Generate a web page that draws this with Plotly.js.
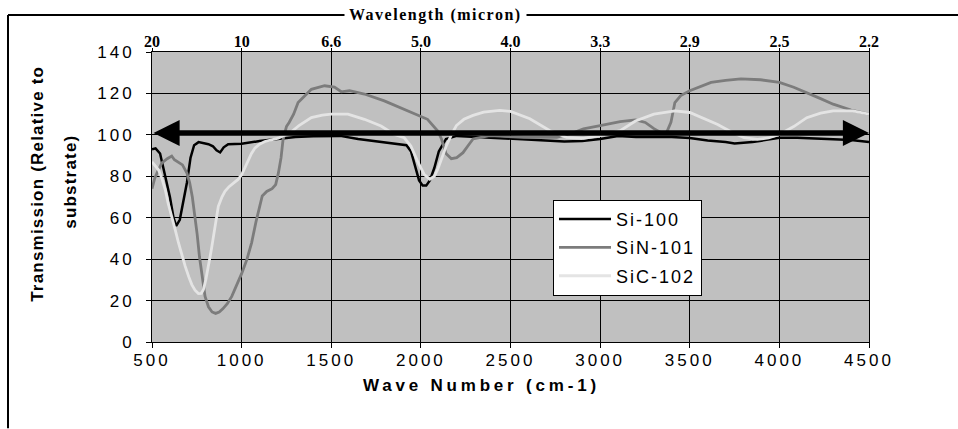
<!DOCTYPE html>
<html>
<head>
<meta charset="utf-8">
<script src="https://cdn.plot.ly/plotly-3.0.1.min.js"></script>
<style>
  html, body { margin: 0; padding: 0; background: #fff; }
  #chart { width: 958px; height: 429px; }
  .xtick text, .ytick text { letter-spacing: 3px; }
  .legendtext { letter-spacing: 2px; }
</style>
</head>
<body>
<div id="chart"></div>
<script>
// ---- data ----
const si100_wn = [500,520,545,570,600,620,635,655,675,695,715,735,760,790,815,840,860,880,900,925,1000,1100,1200,1300,1400,1500,1550,1650,1750,1850,1920,1945,1965,1990,2010,2030,2050,2075,2100,2140,2200,2300,2400,2500,2600,2700,2800,2900,3000,3100,3200,3300,3400,3500,3600,3700,3750,3800,3850,3900,4000,4100,4200,4300,4400,4500];
const si100_t  = [93,93.5,91,82,70,60,56,59,68,77,89,95,96.5,96,95.5,94.5,92.5,91.5,94,95.5,95.7,97,98,99,99.3,99.2,99.5,98,97,96,95,92,86,78,75.5,75.5,78,84,92,98,99.5,99,98.6,98.3,97.5,97,96.8,97,98,99.4,99,99,99,98.5,97.3,96.5,95.8,96.2,96.5,97.2,98.6,98.6,98.3,98.1,97.5,96.5];

const sin101_wn = [500,515,530,555,585,610,625,645,670,695,710,725,740,752,765,780,796,815,835,855,875,895,920,945,970,1000,1030,1056,1080,1100,1115,1140,1170,1190,1205,1220,1231,1250,1265,1290,1315,1389,1463,1518,1556,1602,1685,1796,1926,2037,2093,2115,2140,2170,2200,2235,2265,2291,2384,2500,2571,2700,2758,2850,2907,3000,3112,3197,3252,3300,3340,3370,3395,3417,3450,3500,3560,3619,3700,3785,3895,4000,4080,4153,4230,4300,4400,4500];
const sin101_t  = [74,79,82,86.5,88.5,89.8,88,87,85.5,81.5,77,70,61,52,41,31,22,17,14.5,13.8,14.5,16,18.5,22,27,33,40,48,58,66,70.5,72.7,74,76,81.5,89,97.6,104,106,110,115.6,122,123.7,123,120.8,121.3,119.7,116.4,111.6,107.5,102,98,91,88.5,89,91.4,95,98,99.6,99,98.8,98.8,98.8,101,102.9,104.5,106.4,107.2,106,103,101,101,106,115.6,119,121.3,123.5,125.3,126.3,127,126.6,125.3,123,120.5,117.5,114.8,112,110];

const sic102_wn = [500,520,537,555,574,590,611,630,648,665,685,705,722,740,759,775,787,800,815,830,843,857,870,890,907,930,954,980,1000,1020,1037,1055,1074,1100,1130,1170,1204,1240,1278,1320,1389,1450,1500,1593,1685,1778,1852,1907,1944,1981,2019,2050,2075,2093,2120,2142,2170,2198,2240,2291,2350,2440,2500,2608,2720,2813,2907,3000,3112,3197,3300,3417,3500,3580,3656,3730,3803,3877,3940,4000,4080,4153,4230,4300,4410,4500];
const sic102_t  = [87,84.5,83,79,73.5,67,60.7,54,47.8,42,36.6,31.5,27.7,25,23.4,23.5,25.3,30,36.6,44,51,59,65.5,70,72.7,75,76.7,78.5,80.7,84.5,88,91,93.6,95.5,96.8,97.8,98.4,99.8,101.5,104.5,108.3,109.5,110,110,107.5,104.3,100.2,98.6,94.6,87.3,80.8,78.6,80,83.2,90,94.7,100,104.5,107.5,109.4,111,111.8,111.3,107.8,102,98.8,98.3,99.6,102,106.7,110,111.6,110.8,108,105,101.5,98.6,97.8,98.5,100.2,104,108.3,110.5,111.6,111.6,110];

const seriesNames = ['Si-100', 'SiN-101', 'SiC-102'];
const xTickVals = [500,1000,1500,2000,2500,3000,3500,4000,4500];
const wavelengthLabels = ['20','10','6.6','5.0','4.0','3.3','2.9','2.5','2.2'];
const yTickVals = [0,20,40,60,80,100,120,140];
const xTitle = 'Wave Number (cm-1)';
const topTitle = 'Wavelength (micron)';
const yTitleLines = ['Transmission (Relative to', 'substrate)'];
const referenceLevel = 100.9;   // the double-headed arrow
const xRange = [500, 4500];
const yRange = [0, 140];

// ---- chart ----
const SANS = 'Liberation Sans, Arial, sans-serif';
const SERIF = 'Liberation Serif, Times New Roman, serif';

const traces = [
  {x: si100_wn, y: si100_t, name: seriesNames[0], mode: 'lines', legendgroup: 'a',
   line: {color: '#000000', width: 2.5}},
  {x: sin101_wn, y: sin101_t, name: seriesNames[1], mode: 'lines', legendgroup: 'b',
   line: {color: '#7c7c7c', width: 2.8}},
  {x: sic102_wn, y: sic102_t, name: seriesNames[2], mode: 'lines', legendgroup: 'c',
   line: {color: '#e4e4e4', width: 2.8}},
  // carrier for the top (wavelength) axis
  {x: xRange, y: [null, null], xaxis: 'x2', mode: 'lines', showlegend: false, hoverinfo: 'skip'}
];

const plotL = 152, plotR = 869, plotT = 52, plotB = 342.5;
const W = 958, H = 429;
const px = v => (v - plotL) / (plotR - plotL);
const py = v => (plotB - v) / (plotB - plotT);

const layout = {
  width: W, height: H,
  margin: {l: plotL, r: W - plotR, t: plotT, b: H - plotB, pad: 0},
  paper_bgcolor: '#ffffff',
  plot_bgcolor: '#c0c0c0',
  showlegend: true,
  xaxis: {
    range: xRange, tickvals: xTickVals,
    showgrid: true, gridcolor: '#000000', gridwidth: 1,
    zeroline: false, showline: true, linecolor: '#000000', linewidth: 1, mirror: true,
    ticks: 'outside', ticklen: 5, tickcolor: '#000000',
    ticklabelstandoff: -2,
    tickfont: {family: SANS, size: 17, color: '#000000'}
  },
  xaxis2: {
    overlaying: 'x', side: 'top', range: xRange,
    tickvals: xTickVals, ticktext: wavelengthLabels,
    showgrid: false, zeroline: false, showline: false,
    ticks: 'outside', ticklen: 3, tickcolor: '#000000',
    ticklabelstandoff: -5,
    tickfont: {family: SERIF, size: 16, color: '#000000', weight: 'bold'}
  },
  yaxis: {
    range: yRange, tickvals: yTickVals,
    showgrid: true, gridcolor: '#000000', gridwidth: 1,
    zeroline: false, showline: true, linecolor: '#000000', linewidth: 1, mirror: true,
    ticks: 'outside', ticklen: 5, tickcolor: '#000000',
    ticklabelstandoff: 8,
    tickfont: {family: SANS, size: 17, color: '#000000'}
  },
  legend: {
    x: px(553), y: py(200), xanchor: 'left', yanchor: 'top',
    bgcolor: '#ffffff', bordercolor: '#000000', borderwidth: 1,
    font: {family: SANS, size: 18, color: '#000000'},
    tracegroupgap: 2, itemwidth: 52
  },
  annotations: [
    {x: xRange[1], y: referenceLevel, ax: xRange[0], ay: referenceLevel,
     xref: 'x', yref: 'y', axref: 'x', ayref: 'y',
     text: '', showarrow: true, arrowside: 'end+start',
     arrowhead: 2, arrowsize: 0.95, arrowwidth: 5.5, arrowcolor: '#000000',
     standoff: 0, startstandoff: 0},
    {text: '<span style="letter-spacing:3.8px">' + xTitle + '</span>', xref: 'paper', yref: 'paper',
     x: px(481), y: py(386), xanchor: 'center', yanchor: 'middle', showarrow: false,
     font: {family: SANS, size: 17, color: '#000000', weight: 'bold'}},
    {text: '<span style="letter-spacing:1.5px">' + topTitle + '</span>', xref: 'paper', yref: 'paper',
     x: px(435), y: py(15), xanchor: 'center', yanchor: 'middle', showarrow: false,
     bgcolor: '#ffffff', borderpad: 4,
     font: {family: SERIF, size: 16, color: '#000000', weight: 'bold'}},
    {text: '<span style="letter-spacing:1.2px">' + yTitleLines[0] + '</span>', xref: 'paper', yref: 'paper',
     x: px(38), y: py(184), xanchor: 'center', yanchor: 'middle', showarrow: false, textangle: -90,
     font: {family: SANS, size: 17, color: '#000000', weight: 'bold'}},
    {text: '<span style="letter-spacing:1.2px">' + yTitleLines[1] + '</span>', xref: 'paper', yref: 'paper',
     x: px(71), y: py(182), xanchor: 'center', yanchor: 'middle', showarrow: false, textangle: -90,
     font: {family: SANS, size: 17, color: '#000000', weight: 'bold'}}
  ],
  shapes: [
    {type: 'line', xref: 'paper', yref: 'paper', x0: px(8), x1: px(8), y0: py(15), y1: py(429),
     line: {color: '#000000', width: 2}},
    {type: 'line', xref: 'paper', yref: 'paper', x0: px(8), x1: px(958), y0: py(15), y1: py(15),
     line: {color: '#000000', width: 2}}
  ]
};

Plotly.newPlot('chart', traces, layout, {staticPlot: true, displayModeBar: false});
</script>
</body>
</html>
